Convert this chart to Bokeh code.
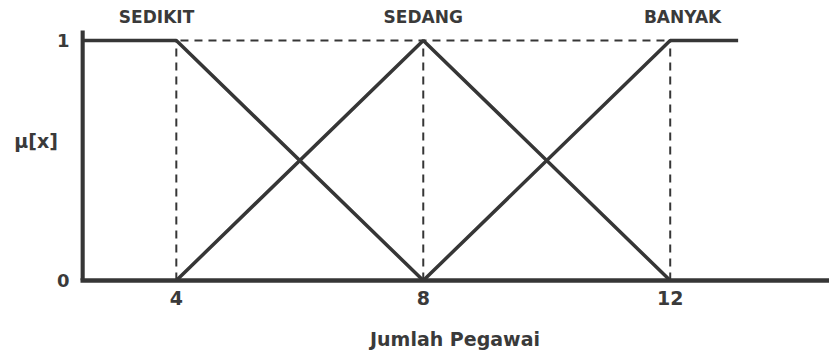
from bokeh.plotting import figure
from bokeh.models import Range1d, FixedTicker
from bokeh.core.properties import value
from bokeh.embed import file_html
from bokeh.resources import INLINE

# ---- data ----
x_axis_at = 2.48
x_max = 14.58
sedikit_x = [2.48, 4, 8]
sedikit_y = [1, 1, 0]
sedang_x = [4, 8, 12]
sedang_y = [0, 1, 0]
banyak_x = [8, 12, 13.1]
banyak_y = [0, 1, 1]
guide_x = [4, 8, 12]
x_ticks = [4, 8, 12]
y_ticks = [0, 1]
set_names = ["SEDIKIT", "SEDANG", "BANYAK"]
set_label_x = [3.68, 8.0, 12.2]
set_label_y = 1.096
y_axis_top = 1.042
x_label = "Jumlah Pegawai"
y_label = "\u03bc[x]"

FONT = "DejaVu Sans"
INK = "#363636"
TXT = "#3a3a3a"

p = figure(width=829, height=358, output_backend="svg", toolbar_location=None,
           x_range=Range1d(x_axis_at - 0.032, x_max), y_range=Range1d(0, 1.1667),
           min_border_left=80, min_border_right=0, min_border_top=0,
           min_border_bottom=78)
p.outline_line_color = None
p.xgrid.visible = False
p.ygrid.visible = False
p.background_fill_color = "white"

# dashed guides
p.multi_line(xs=[[gx, gx] for gx in guide_x], ys=[[0, 1] for _ in guide_x],
             line_color=INK, line_width=2, line_dash="8 6")
p.line([x_axis_at, banyak_x[-1]], [1, 1], line_color=INK, line_width=2, line_dash="8 6")

# membership functions
for xs, ys in [(sedikit_x, sedikit_y), (sedang_x, sedang_y), (banyak_x, banyak_y)]:
    p.line(xs, ys, line_color=INK, line_width=3.5)

# vertical axis line (only up to just above 1)
p.line([x_axis_at, x_axis_at], [0, y_axis_top], line_color=INK, line_width=4.5)

# axes
for ax in (p.xaxis[0], p.yaxis[0]):
    ax.major_tick_line_color = None
    ax.minor_tick_line_color = None
    ax.major_tick_out = 0
    ax.major_tick_in = 0
    ax.major_label_text_font = FONT
    ax.major_label_text_font_style = "bold"
    ax.major_label_text_color = TXT

p.xaxis.axis_line_color = INK
p.xaxis.axis_line_width = 4.5
p.xaxis.ticker = FixedTicker(ticks=x_ticks)
p.xaxis.major_label_text_font_size = "19px"
p.xaxis.major_label_standoff = 10
p.xaxis.axis_label = x_label
p.xaxis.axis_label_text_font = FONT
p.xaxis.axis_label_text_font_style = "bold"
p.xaxis.axis_label_text_font_size = "19px"
p.xaxis.axis_label_text_color = TXT
p.xaxis.axis_label_standoff = 20

p.yaxis.axis_line_color = None
p.yaxis.ticker = FixedTicker(ticks=y_ticks)
p.yaxis.major_label_text_font_size = "18px"
p.yaxis.major_label_standoff = 11
p.yaxis.axis_label = y_label
p.yaxis.axis_label_orientation = "horizontal"
p.yaxis.axis_label_text_font = FONT
p.yaxis.axis_label_text_font_style = "bold"
p.yaxis.axis_label_text_font_size = "19px"
p.yaxis.axis_label_text_color = TXT
p.yaxis.axis_label_standoff = -4

# set names above the chart
p.text(x=set_label_x, y=[set_label_y] * len(set_names), text=set_names,
       text_font=value(FONT), text_font_style="bold", text_font_size="17px",
       text_color=TXT, text_align="center", text_baseline="middle")

open("out.html", "w").write(file_html(p, INLINE))
